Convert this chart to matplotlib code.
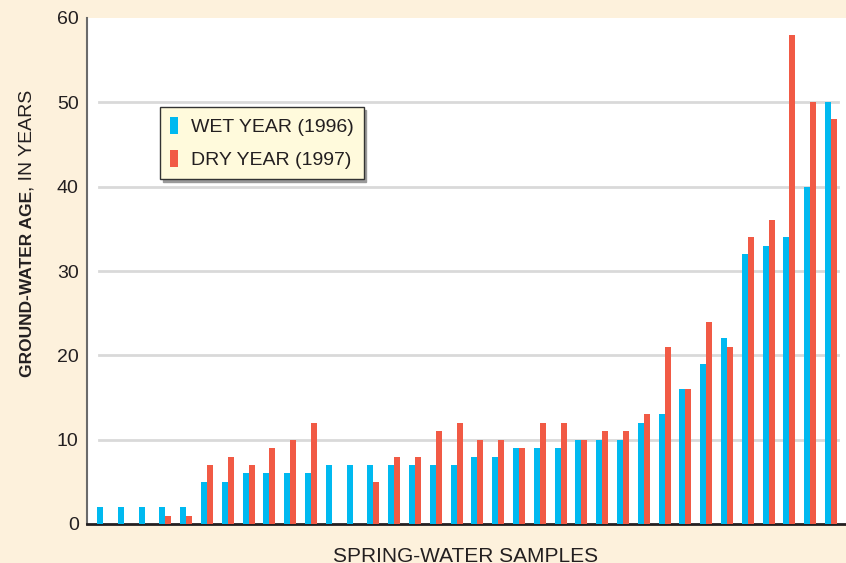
import matplotlib.pyplot as plt
import numpy as np

plt.rcParams['font.family'] = ['Liberation Sans', 'DejaVu Sans']

# ages, one pair per spring sample
wet_1996 = [2, 2, 2, 2, 2, 5, 5, 6, 6, 6, 6, 7, 7, 7, 7, 7, 7, 7, 8, 8, 9, 9,
            9, 10, 10, 10, 12, 13, 16, 19, 22, 32, 33, 34, 40, 50]
dry_1997 = [0, 0, 0, 1, 1, 7, 8, 7, 9, 10, 12, 0, 0, 5, 8, 8, 11, 12, 10, 10, 9, 12,
            12, 10, 11, 11, 13, 21, 16, 24, 21, 34, 36, 58, 50, 48]
labels = ['WET YEAR (1996)', 'DRY YEAR (1997)']
yticks = list(range(0, 61, 10))

BG = '#FDF1DC'
BLUE = '#00B9F0'
RED = '#F15A45'
INK = '#231F20'

fig = plt.figure(figsize=(8.46, 5.63), dpi=100, facecolor=BG)
ax = fig.add_axes([87 / 846, 39 / 563, 759 / 846, 506 / 563])
ax.set_facecolor('white')

x = np.arange(len(wet_1996))
w = 0.29
ax.bar(x - w / 2, wet_1996, w, color=BLUE, label=labels[0], zorder=3)
ax.bar(x + w / 2, dry_1997, w, color=RED, label=labels[1], zorder=3)

ax.set_xlim(-0.77, 35.72)
ax.set_ylim(0, 60)

# grid lines stop short of the axes
for y in yticks[1:-1]:
    ax.axhline(y, 0.016, 0.989, color='#D9D9D9', lw=2, zorder=1)

ax.set_xticks([])
ax.set_yticks(yticks)
ax.tick_params(axis='y', length=0, pad=6, labelsize=14, labelcolor=INK)
ax.set_yticks(yticks[1:-1], minor=True)
ax.tick_params(axis='y', which='minor', direction='in', length=6, width=1.5,
               color='#5A5A5A', left=True, right=True)

for s in ['top', 'right']:
    ax.spines[s].set_visible(False)
ax.spines['left'].set_color('#6B6B6B')
ax.spines['left'].set_linewidth(1.5)
ax.spines['bottom'].set_color(INK)
ax.spines['bottom'].set_linewidth(2)

leg = ax.legend(loc='upper left', bbox_to_anchor=(0.096, 0.824), borderaxespad=0,
                fontsize=14, handlelength=0.41, handleheight=1.0, handletextpad=0.7,
                labelspacing=0.7, borderpad=0.5, fancybox=False,
                shadow={'color': '#9A9A9A', 'alpha': 1}, framealpha=1,
                facecolor='#FFFADC', edgecolor='#333333')
leg.get_frame().set_linewidth(1)
for t in leg.get_texts():
    t.set_color(INK)

# y label: bold part + regular part
t1 = fig.text(0.032, (563 - 377) / 563, 'GROUND-WATER AGE', rotation=90,
              ha='center', va='bottom', fontsize=12.5, fontweight='bold', color=INK)
ax.annotate(', IN YEARS', xy=(0.5, 1), xycoords=t1, ha='center', va='bottom',
            rotation=90, fontsize=14, color=INK)

fig.text(466 / 846, 0.002, 'SPRING-WATER SAMPLES', ha='center', va='baseline',
         fontsize=15, color=INK)

fig.savefig('out.png', dpi=100, facecolor=BG)
